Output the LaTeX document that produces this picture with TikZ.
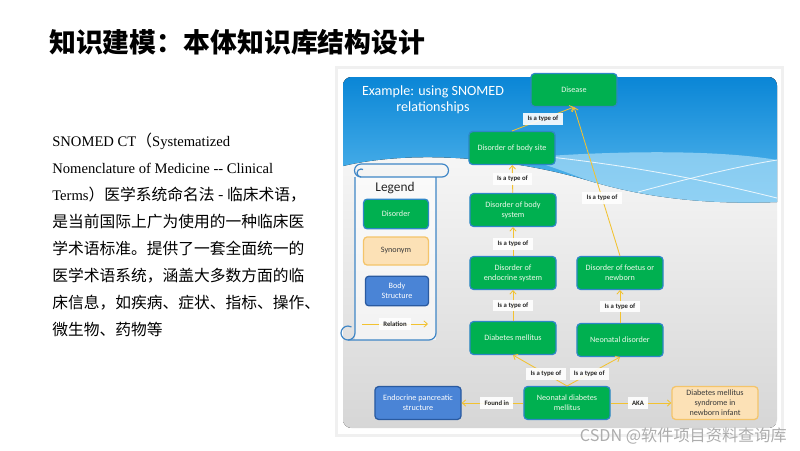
\documentclass[tikz,border=0pt]{standalone}
\usepackage{fontspec}
\setmainfont{Liberation Serif}
\newfontfamily\cjk{Noto Sans CJK SC}
\newfontfamily\carlito{Carlito}
\usetikzlibrary{arrows.meta}

\definecolor{dgreen}{HTML}{00B050}
\definecolor{dedge}{HTML}{2E86C8}
\definecolor{nodetext}{HTML}{EEF8EA}
\definecolor{synfill}{HTML}{FCE1B6}
\definecolor{synedge}{HTML}{F4C46A}
\definecolor{syntext}{HTML}{3A3A3A}
\definecolor{bodyfill}{HTML}{4A84D6}
\definecolor{bodyedge}{HTML}{2A5AA0}
\definecolor{relcol}{HTML}{F2C230}
\definecolor{skytop}{HTML}{0A86D6}
\definecolor{skybot}{HTML}{5BBAEE}
\definecolor{skyband}{HTML}{A8DCF7}
\definecolor{scrollcol}{HTML}{3F86C6}

% Chinese runs inside the serif paragraph
\newcommand{\zh}[1]{{\cjk\fontsize{11.2}{19.2}\selectfont #1}}

\begin{document}
\begin{tikzpicture}[
    x=0.025cm, y=-0.025cm,
    % boxes of the concept graph
    disorder/.style={rectangle, rounded corners=2.5pt, draw=dedge, line width=0.9pt,
        fill=dgreen, text=nodetext, minimum width=2.15cm, minimum height=0.82cm,
        align=center, inner sep=1pt, font=\carlito\fontsize{5.8}{7}\selectfont},
    synonym/.style={disorder, fill=synfill, draw=synedge, text=syntext},
    bodystruct/.style={disorder, fill=bodyfill, draw=bodyedge, text=white},
    % relations
    rel/.style={draw=relcol, line width=0.6pt, -{Straight Barb[length=2.5pt,width=4.5pt]}},
    rel label/.style={fill=white, fill opacity=0.9, text opacity=1, text=black!85,
        inner xsep=3pt, inner ysep=1.5pt, minimum height=0.29cm,
        font=\carlito\bfseries\fontsize{4.8}{5.4}\selectfont},
    scroll/.style={draw=scrollcol, line width=0.85pt}
]
    \useasboundingbox (0,0) rectangle (800,450);

    % ==========================
    % Page text
    % ==========================
    \node[anchor=west, inner sep=0, font=\cjk\bfseries\fontsize{19.1}{22}\selectfont]
        (title) at (49,42) {知识建模：本体知识库结构设计};

    \node[anchor=north west, inner sep=0, align=left,
          font=\fontsize{10.4}{19.2}\selectfont] (intro) at (52,133)
        {SNOMED CT\zh{（}Systematized\\
         Nomenclature of Medicine -{}- Clinical\\
         Terms\zh{）医学系统命名法 - 临床术语，}\\
         \zh{是当前国际上广为使用的一种临床医}\\
         \zh{学术语标准。提供了一套全面统一的}\\
         \zh{医学术语系统，涵盖大多数方面的临}\\
         \zh{床信息，如疾病、症状、指标、操作、}\\
         \zh{微生物、药物等}};

    % ==========================
    % Slide background
    % ==========================
    \fill[black!6] (335,66) rectangle (784,437);
    \fill[white] (338,69) rectangle (781,434);
    \begin{scope}
        \clip[rounded corners=6pt] (343,77) rectangle (777,428);
        \fill[top color=white, bottom color=black!16] (343,77) rectangle (777,428);
        % blue sky with the white wave under it
        \fill[top color=skytop, bottom color=skybot] (343,77) -- (777,77) -- (777,202)
            .. controls (700,205) and (640,196) .. (590,181)
            .. controls (520,160) and (420,148) .. (343,166) -- cycle;
        \fill[skyband, opacity=0.7] (520,158) .. controls (620,150) and (720,150) .. (777,160)
            -- (777,202) .. controls (700,205) and (640,196) .. (590,181)
            .. controls (560,170) and (540,162) .. (520,158) -- cycle;
        \draw[white, opacity=0.8, line width=0.6pt]
            (550,157) .. controls (650,168) and (720,184) .. (777,198);
        \draw[white, opacity=0.8, line width=0.6pt]
            (638,192) .. controls (690,178) and (740,166) .. (777,160);
    \end{scope}

    \node[anchor=center, align=center, text=white,
          font=\carlito\fontsize{10}{11.6}\selectfont] (slidetitle) at (433,100)
        {Example: using SNOMED\\relationships};

    % ==========================
    % Legend scroll
    % ==========================
    \fill[white, opacity=0.6] (355,177) rectangle (436,340);
    \draw[scroll] (361,164) -- (442,164) arc[start angle=-90, end angle=90, radius=6.5]
        -- (361,177) arc[start angle=90, end angle=270, radius=6.5];
    \draw[scroll] (361,177) arc[start angle=90, end angle=300, radius=4];
    \draw[scroll] (355,177) -- (355,333) arc[start angle=0, end angle=300, radius=7];
    \draw[scroll, rounded corners=5pt] (348,340) -- (436,340) -- (436,177);

    \node[font=\carlito\fontsize{9.5}{10}\selectfont, text=black!85] (legend) at (395,188) {Legend};
    \node[disorder, minimum width=1.62cm, minimum height=0.74cm] (lgdis) at (396,214) {Disorder};
    \node[synonym, minimum width=1.62cm, minimum height=0.7cm] (lgsyn) at (396,251) {Synonym};
    \node[bodystruct, minimum width=1.58cm, minimum height=0.74cm] (lgbody) at (397,291) {Body\\Structure};
    \coordinate (lgrs) at (362,324);
    \coordinate (lgre) at (428,324);
    \draw[rel] (lgrs) -- (lgre) node[rel label, midway] (lgrel) {Relation};

    % ==========================
    % Concept graph
    % ==========================
    \node[disorder] (disease) at (574,90) {Disease};
    \node[disorder] (bodysite) at (512,148) {Disorder of body site};
    \node[disorder] (bodysystem) at (513,210) {Disorder of body\\system};
    \node[disorder] (endocrine) at (513,273) {Disorder of\\endocrine system};
    \node[disorder] (foetus) at (620,273) {Disorder of foetus or\\newborn};
    \node[disorder] (dm) at (513,338) {Diabetes mellitus};
    \node[disorder] (neonatal) at (620,340) {Neonatal disorder};
    \node[disorder] (ndm) at (567,403) {Neonatal diabetes\\mellitus};
    \node[bodystruct] (pancreas) at (418,403) {Endocrine pancreatic\\structure};
    \node[synonym] (syndrome) at (715,403) {Diabetes mellitus\\syndrome in\\newborn infant};

    \draw[rel] (bodysite.north) -- (disease.south) node[rel label, midway] {Is a type of};
    \draw[rel] (foetus.north) -- (disease.south) node[rel label, pos=0.39] {Is a type of};
    \draw[rel] (bodysystem) -- (bodysite) node[rel label, midway] {Is a type of};
    \draw[rel] (endocrine) -- (bodysystem) node[rel label, pos=0.42] {Is a type of};
    \draw[rel] (dm) -- (endocrine) node[rel label, midway] {Is a type of};
    \draw[rel] (neonatal) -- (foetus) node[rel label, midway] {Is a type of};
    \draw[rel] (ndm.north) -- (dm.south) node[rel label, pos=0.39] {Is a type of};
    \draw[rel] (ndm.north) -- (neonatal.south) node[rel label, pos=0.42] {Is a type of};
    \draw[rel] (ndm) -- (pancreas) node[rel label, pos=0.43] {Found in};
    \draw[rel] (ndm) -- (syndrome) node[rel label, pos=0.45] {AKA};

    % watermark
    \node[anchor=east, inner sep=0, text=black!32, font=\cjk\fontsize{11.5}{12}\selectfont]
        (mark) at (787,436) {CSDN @软件项目资料查询库};

\end{tikzpicture}
\end{document}
